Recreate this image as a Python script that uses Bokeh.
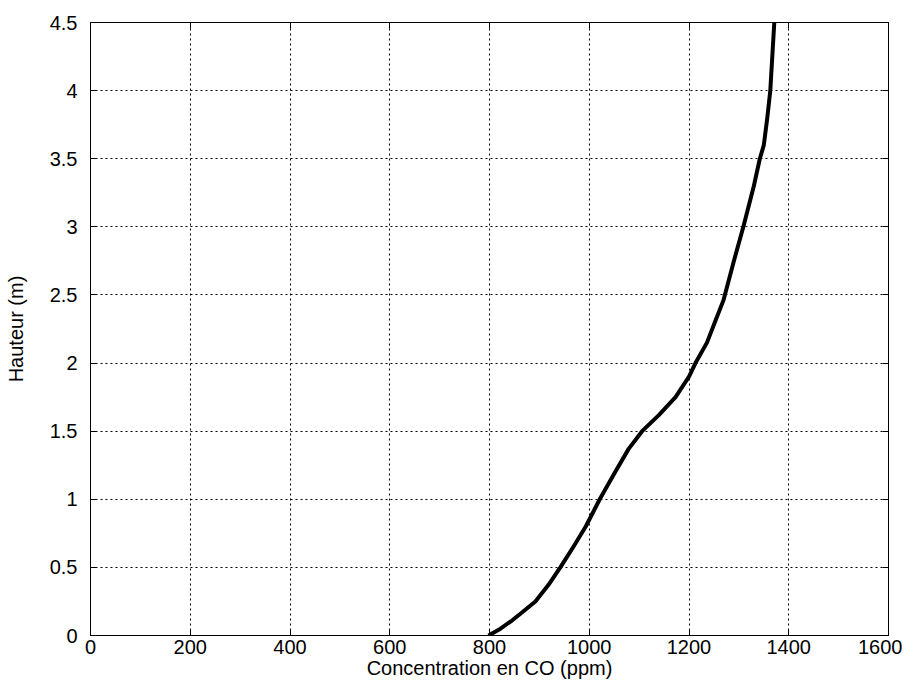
from bokeh.plotting import figure
from bokeh.models import FixedTicker, CustomJSTickFormatter, LinearAxis, Range1d
from bokeh.embed import file_html
from bokeh.resources import INLINE

# Data
concentration_ppm = [798, 822, 845, 862, 892, 918, 942, 968, 993, 1021, 1052, 1079, 1106, 1140,
                     1173, 1200, 1213, 1236, 1253, 1269, 1290, 1309, 1330, 1342, 1350, 1357, 1363, 1371]
hauteur_m = [0.0, 0.05, 0.11, 0.16, 0.25, 0.37, 0.5, 0.65, 0.8, 1.0, 1.2, 1.37, 1.5, 1.62,
             1.75, 1.9, 2.0, 2.15, 2.31, 2.46, 2.75, 3.0, 3.3, 3.5, 3.6, 3.8, 4.0, 4.5]
x_ticks = [0, 200, 400, 600, 800, 1000, 1200, 1400, 1600]
y_ticks = [0, 0.5, 1, 1.5, 2, 2.5, 3, 3.5, 4, 4.5]

FONT = "Liberation Sans"
FS = "20px"

p = figure(width=902, height=683, output_backend="svg", toolbar_location=None,
           x_range=Range1d(0, 1600), y_range=Range1d(0, 4.5),
           min_border_left=90, min_border_right=14, min_border_top=22, min_border_bottom=48)
p.background_fill_color = "white"
p.border_fill_color = "white"
p.outline_line_color = "black"
p.outline_line_width = 1

fmt = CustomJSTickFormatter(code="return tick.toString();")
blank = CustomJSTickFormatter(code="return '';")

for ax, ticks in ((p.xaxis[0], x_ticks), (p.yaxis[0], y_ticks)):
    ax.ticker = FixedTicker(ticks=ticks)
    ax.formatter = fmt
    ax.major_tick_in = 6
    ax.major_tick_out = 0
    ax.minor_tick_in = 0
    ax.minor_tick_out = 0
    ax.axis_line_color = "black"
    ax.major_tick_line_color = "black"
    ax.major_label_text_font = FONT
    ax.major_label_text_font_size = FS
    ax.major_label_text_color = "black"
    ax.axis_label_text_font = FONT
    ax.axis_label_text_font_size = FS
    ax.axis_label_text_font_style = "normal"
    ax.axis_label_text_color = "black"

p.xaxis[0].axis_label = "Concentration en CO (ppm)"
p.yaxis[0].axis_label = "Hauteur (m)"
p.xaxis[0].major_label_standoff = 4
p.xaxis[0].axis_label_standoff = 0
p.yaxis[0].major_label_standoff = 13
p.yaxis[0].axis_label_standoff = 20

# mirrored ticks on top and right (no labels)
top = LinearAxis(ticker=FixedTicker(ticks=x_ticks), formatter=blank,
                 major_tick_in=6, major_tick_out=0, minor_tick_in=0, minor_tick_out=0,
                 axis_line_color="black", major_label_standoff=0)
right = LinearAxis(ticker=FixedTicker(ticks=y_ticks), formatter=blank,
                   major_tick_in=6, major_tick_out=0, minor_tick_in=0, minor_tick_out=0,
                   axis_line_color="black", major_label_standoff=0)
p.add_layout(top, "above")
p.add_layout(right, "right")

for g, ticks in ((p.xgrid[0], x_ticks), (p.ygrid[0], y_ticks)):
    g.ticker = FixedTicker(ticks=ticks)
    g.grid_line_color = "black"
    g.grid_line_dash = "2 3"
    g.grid_line_width = 1
    g.grid_line_alpha = 1.0

p.line(concentration_ppm, hauteur_m, line_color="black", line_width=4, line_join="round")

open("out.html", "w").write(file_html(p, INLINE))
